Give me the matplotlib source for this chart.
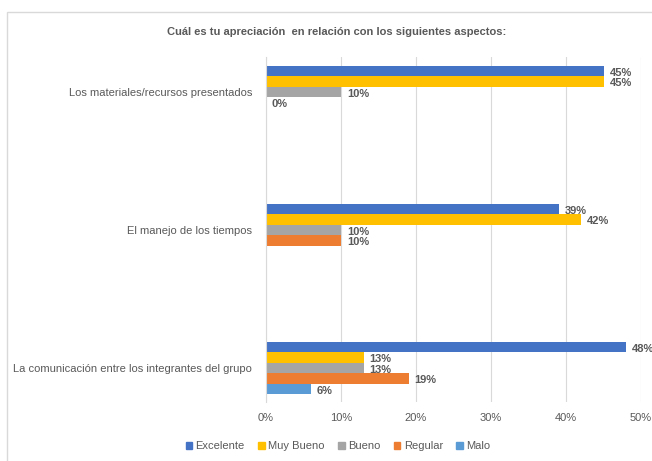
import numpy as np
import matplotlib.pyplot as plt
from matplotlib.patches import Patch, Rectangle

categories = ["Los materiales/recursos presentados",
              "El manejo de los tiempos",
              "La comunicación entre los integrantes del grupo"]
series = ["Excelente", "Muy Bueno", "Bueno", "Regular", "Malo"]
excelente = [0.45, 0.39, 0.48]
muy_bueno = [0.45, 0.42, 0.13]
bueno = [0.10, 0.10, 0.13]
regular = [0.00, 0.10, 0.19]
malo = [np.nan, np.nan, 0.06]
colors = ["#4472C4", "#FFC000", "#A5A5A5", "#ED7D31", "#5B9BD5"]

values = [excelente, muy_bueno, bueno, regular, malo]
txt = "#595959"
plt.rcParams["font.family"] = ["Liberation Sans", "DejaVu Sans"]

fig = plt.figure(figsize=(6.52, 4.61), dpi=100)
# outer chart border (only top and left visible, picture is cropped)
fig.patches.append(Rectangle((7 / 652, -0.2), 1.2, 1.2 - 12 / 461, transform=fig.transFigure,
                             fill=False, edgecolor="#D9D9D9", linewidth=1))
ax = fig.add_axes([266 / 652, 1 - 402 / 461, (641 - 266) / 652, (402 - 57) / 461])

bh = 0.076
y = np.arange(len(categories))
for i, (name, vals, c) in enumerate(zip(series, values, colors)):
    pos = y + (i - 2) * bh
    ax.barh(pos, vals, height=bh, color=c, label=name)
    for p, v in zip(pos, vals):
        if not np.isnan(v):
            ax.text(v + 0.008, p + 0.012, f"{v * 100:.0f}%", va="center", ha="left",
                    fontsize=8, color=txt, fontweight="bold", clip_on=False)

ax.set_ylim(2.246, -0.254)
ax.set_xlim(0, 0.5)
ax.set_xticks(np.arange(0, 0.51, 0.1))
ax.set_xticklabels([f"{t}%" for t in range(0, 51, 10)])
ax.set_yticks(y)
ax.set_yticklabels(categories)
ax.tick_params(axis="both", length=0, labelsize=8, colors=txt)
ax.tick_params(axis="y", pad=10)
ax.tick_params(axis="x", pad=8)
ax.grid(axis="x", color="#D9D9D9", linewidth=0.8)
ax.set_axisbelow(True)
for s in ["top", "right", "bottom"]:
    ax.spines[s].set_visible(False)
ax.spines["left"].set_color("#D9D9D9")

fig.text(337 / 652, 1 - 32 / 461, "Cuál es tu apreciación  en relación con los siguientes aspectos:",
         ha="center", va="center", fontsize=8, fontweight="bold", color=txt)

handles = [Patch(color=c, label=n) for n, c in zip(series, colors)]
fig.legend(handles=handles, loc="center", bbox_to_anchor=(338 / 652, 1 - 446 / 461), ncol=5,
           frameon=False, fontsize=8, handlelength=0.6, handleheight=0.6,
           handletextpad=0.3, columnspacing=1.2, labelcolor=txt)

fig.savefig("out.png", dpi=100)
